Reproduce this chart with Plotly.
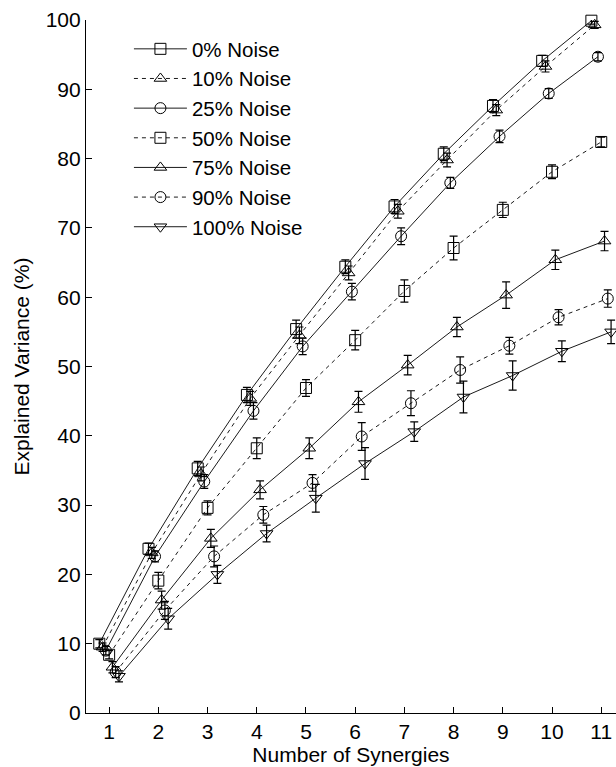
import plotly.graph_objects as go

synergies = [1, 2, 3, 4, 5, 6, 7, 8, 9, 10, 11]

noise_labels = ["0% Noise", "10% Noise", "25% Noise", "50% Noise",
                "75% Noise", "90% Noise", "100% Noise"]

# horizontal offset of each noise level around the integer synergy count
x_offsets = [-0.2, -0.133, -0.067, 0.0, 0.067, 0.133, 0.2]

var_0 = [10.0, 23.7, 35.3, 45.9, 55.4, 64.4, 73.1, 80.7, 87.6, 94.1, 99.9]
var_10 = [9.5, 23.1, 34.5, 45.4, 54.5, 63.5, 72.4, 79.8, 87.0, 93.3, 99.3]
var_25 = [9.0, 22.6, 33.4, 43.6, 52.9, 60.8, 68.8, 76.5, 83.2, 89.4, 94.7]
var_50 = [8.4, 19.1, 29.6, 38.2, 46.9, 53.8, 60.9, 67.1, 72.6, 78.1, 82.4]
var_75 = [6.6, 16.3, 25.2, 32.2, 38.2, 44.9, 50.2, 55.7, 60.3, 65.4, 68.1]
var_90 = [5.9, 14.8, 22.6, 28.6, 33.2, 39.9, 44.7, 49.5, 53.0, 57.1, 59.8]
var_100 = [5.3, 13.6, 20.0, 25.9, 31.0, 36.0, 40.6, 45.6, 48.7, 52.2, 55.0]

err_0 = [0.6, 0.8, 1.0, 1.1, 1.3, 1.0, 1.0, 1.0, 0.9, 0.8, 0.5]
err_10 = [0.6, 0.8, 1.0, 1.0, 1.2, 1.0, 1.0, 1.0, 0.8, 0.8, 0.5]
err_25 = [0.6, 0.8, 1.0, 1.2, 1.2, 1.2, 1.2, 0.8, 0.9, 0.7, 0.6]
err_50 = [0.6, 1.2, 1.0, 1.5, 1.2, 1.4, 1.6, 1.7, 1.1, 1.0, 0.7]
err_75 = [0.8, 1.3, 1.3, 1.3, 1.5, 1.5, 1.4, 1.4, 1.9, 1.4, 1.4]
err_90 = [0.8, 1.3, 1.5, 1.2, 1.2, 2.0, 1.8, 1.9, 1.2, 1.1, 1.25]
err_100 = [0.8, 1.5, 1.3, 1.2, 2.0, 2.3, 1.4, 2.3, 2.1, 1.5, 1.7]

values = [var_0, var_10, var_25, var_50, var_75, var_90, var_100]
errors = [err_0, err_10, err_25, err_50, err_75, err_90, err_100]

symbols = ["square-open", "triangle-up-open", "circle-open", "square-open",
           "triangle-up-open", "circle-open", "triangle-down-open"]
dashes = ["solid", "4px,4px", "solid", "4px,4px", "solid", "4px,4px", "solid"]

FONT = "Liberation Sans, Arial, sans-serif"

fig = go.Figure()
for name, vals, errs, off, sym, dash in zip(noise_labels, values, errors,
                                             x_offsets, symbols, dashes):
    fig.add_trace(go.Scatter(
        x=[s + off for s in synergies],
        y=vals,
        name=name,
        mode="lines+markers",
        line=dict(color="black", width=0.9, dash=dash),
        marker=dict(symbol=sym, size=11, color="black",
                    line=dict(color="black", width=1)),
        error_y=dict(type="data", array=errs, visible=True,
                     color="black", thickness=1.2, width=4),
        cliponaxis=False,
    ))

fig.update_layout(
    width=616, height=767,
    margin=dict(l=86, r=0, t=20, b=54),
    paper_bgcolor="white", plot_bgcolor="white",
    font=dict(family=FONT, size=21, color="black"),
    showlegend=True,
    legend=dict(
        x=0.081, y=0.987, xanchor="left", yanchor="top",
        bgcolor="rgba(0,0,0,0)", borderwidth=0,
        font=dict(family=FONT, size=20.5, color="black"),
        itemwidth=53, tracegroupgap=0,
    ),
    xaxis=dict(
        range=[0.53, 11.3], tickmode="array", tickvals=synergies,
        ticks="inside", ticklen=6, tickcolor="black", tickwidth=1.2,
        showline=True, linecolor="black", linewidth=1.2,
        showgrid=False, zeroline=False,
        title=dict(text="Number of Synergies", standoff=4,
                   font=dict(family=FONT, size=21)),
        tickfont=dict(family=FONT, size=21),
    ),
    yaxis=dict(
        range=[0, 100], tickmode="array", tickvals=list(range(0, 101, 10)),
        ticks="inside", ticklen=6, tickcolor="black", tickwidth=1.2,
        showline=True, linecolor="black", linewidth=1.2,
        showgrid=False, zeroline=False,
        title=dict(text="Explained Variance (%)", standoff=10,
                   font=dict(family=FONT, size=21)),
        tickfont=dict(family=FONT, size=21),
    ),
)

fig.write_html("out.html")
